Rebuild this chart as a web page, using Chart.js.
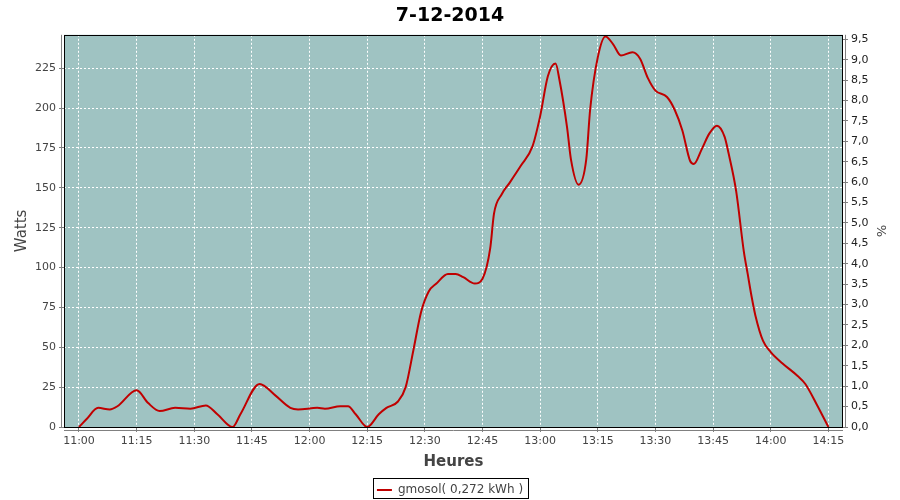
<!DOCTYPE html>
<html>
<head>
<meta charset="utf-8">
<script src="https://cdn.jsdelivr.net/npm/chart.js@4/dist/chart.umd.min.js"></script>
<style>
  html, body { margin: 0; padding: 0; background: #fff; }
  #wrap { width: 900px; height: 500px; }
</style>
</head>
<body>
<div id="wrap"><canvas id="grafico"></canvas></div>
<script>
// readings of the day (time, watts)
const heures = ['11:00','11:02','11:05','11:08','11:10','11:15','11:18','11:21','11:25','11:29',
  '11:33','11:36','11:40','11:42','11:47','11:51','11:55','11:57','12:02','12:04',
  '12:08','12:10','12:12','12:15','12:18','12:20','12:23','12:25','12:27','12:29',
  '12:31','12:33','12:36','12:38','12:40','12:43','12:45','12:47','12:48','12:50',
  '12:52','12:55','12:58','13:00','13:02','13:04','13:05','13:07','13:08','13:10',
  '13:12','13:13','13:15','13:17','13:19','13:21','13:24','13:26','13:28','13:30',
  '13:33','13:35','13:37','13:39','13:40','13:42','13:44','13:46','13:48','13:49',
  '13:51','13:53','13:54','13:55','13:56','13:58','14:00','14:03','14:07','14:09','14:12','14:15'];
const watts = [0, 5, 12, 11, 13, 23, 15, 10, 12, 11.5,
  13.5, 8, 0, 8, 27, 20, 12, 11, 12, 11.5,
  13, 13, 8, 0, 8, 12, 16, 25, 48, 72,
  85, 90, 96, 96, 94, 90, 93, 112, 134, 146,
  153, 164, 176, 195, 220, 228, 218, 188, 168, 152,
  168, 199, 232, 245, 240, 233, 235, 231, 219, 211,
  207, 199, 186, 167, 165, 174, 184, 189, 182, 172,
  148, 110, 96, 82, 70, 54, 47, 40, 32, 27, 14, 0];
const serie = 'gmosol( 0,272 kWh )';
const xTicksStep = 15;
const wattsTicksStep = 25;
const pctTicksStep = 0.5;

function toMin(h) {
  const p = h.split(':');
  return (parseInt(p[0], 10) - 11) * 60 + parseInt(p[1], 10);
}
function toHeure(m) {
  const t = 11 * 60 + Math.round(m);
  return Math.floor(t / 60) + ':' + String(t % 60).padStart(2, '0');
}

const points = heures.map((h, i) => ({x: toMin(h), y: watts[i]}));

const fondPlot = {
  id: 'fondPlot',
  beforeDraw(chart) {
    const {ctx, chartArea: a} = chart;
    ctx.save();
    ctx.fillStyle = '#9fc3c2';
    ctx.fillRect(a.left, a.top, a.right - a.left, a.bottom - a.top);
    ctx.restore();
  },
  afterDatasetsDraw(chart) {
    const {ctx, chartArea: a} = chart;
    ctx.save();
    ctx.strokeStyle = '#000';
    ctx.lineWidth = 1;
    ctx.strokeRect(Math.round(a.left) + 0.5, Math.round(a.top) + 0.5,
      Math.round(a.right - a.left) - 1, Math.round(a.bottom - a.top));
    // axis lines set apart from the plot
    ctx.strokeStyle = '#808080';
    ctx.beginPath();
    ctx.moveTo(Math.round(a.left) - 2.5, a.top);
    ctx.lineTo(Math.round(a.left) - 2.5, a.bottom + 1);
    ctx.moveTo(a.left, Math.round(a.bottom) + 3.5);
    ctx.lineTo(a.right, Math.round(a.bottom) + 3.5);
    ctx.moveTo(Math.round(a.right) + 2.5, a.top);
    ctx.lineTo(Math.round(a.right) + 2.5, a.bottom + 1);
    ctx.stroke();
    // legend frame
    const box = chart.legend.legendHitBoxes[0];
    if (box) {
      ctx.strokeStyle = '#000';
      ctx.strokeRect(Math.round(box.left) - 3.5, Math.round(box.top) - 5.5,
        Math.round(box.width) + 9, Math.round(box.height) + 8);
    }
    ctx.restore();
  }
};

const ctx = document.getElementById('grafico');
new Chart(ctx, {
  type: 'line',
  data: {
    datasets: [{
      label: serie,
      data: points,
      borderColor: '#c00000',
      backgroundColor: '#c00000',
      borderWidth: 2,
      pointRadius: 0,
      fill: false,
      cubicInterpolationMode: 'monotone',
      yAxisID: 'y'
    }]
  },
  options: {
    responsive: true,
    maintainAspectRatio: false,
    animation: false,
    layout: { padding: { top: 0, left: 0, right: 0, bottom: -6 } },
    plugins: {
      title: {
        display: true,
        text: '7-12-2014',
        color: '#000',
        font: { family: 'DejaVu Sans', size: 19, weight: 'bold' },
        padding: { top: 5, bottom: 7 }
      },
      legend: {
        position: 'bottom',
        labels: {
          usePointStyle: true,
          pointStyle: 'line',
          pointStyleWidth: 15,
          color: '#444',
          font: { family: 'DejaVu Sans', size: 12 },
          padding: 3
        }
      },
      tooltip: { enabled: false }
    },
    scales: {
      x: {
        type: 'linear',
        min: -3.9,
        max: 198.8,
        afterFit: s => { s.height = 54; },
        ticks: {
          stepSize: xTicksStep,
          includeBounds: false,
          maxTicksLimit: 20,
          maxRotation: 0,
          autoSkip: false,
          color: '#444',
          font: { family: 'DejaVu Sans', size: 11 },
          padding: 3,
          callback: v => toHeure(v)
        },
        grid: { color: '#fff', lineWidth: 1, tickColor: '#808080', tickLength: 5 },
        border: { display: false, dash: [2, 2] },
        title: {
          display: true, text: 'Heures', color: '#444',
          font: { family: 'DejaVu Sans', size: 15, weight: 'bold' },
          padding: { top: 2, bottom: 10 }
        }
      },
      y: {
        position: 'left',
        min: 0,
        max: 246,
        afterFit: s => { s.width = 64; },
        ticks: {
          stepSize: wattsTicksStep,
          includeBounds: false,
          color: '#444',
          font: { family: 'DejaVu Sans', size: 11 },
          padding: 3
        },
        grid: { color: '#fff', lineWidth: 1, tickColor: '#808080', tickLength: 5 },
        border: { display: false, dash: [2, 2] },
        title: {
          display: true, text: 'Watts', color: '#444',
          font: { family: 'DejaVu Sans', size: 15 },
          padding: { top: 13, bottom: 0 }
        }
      },
      y1: {
        position: 'right',
        min: 0,
        max: 9.61,
        afterFit: s => { s.width = 57; },
        ticks: {
          stepSize: pctTicksStep,
          includeBounds: false,
          maxTicksLimit: 25,
          color: '#222',
          font: { family: 'DejaVu Sans', size: 11 },
          padding: 3,
          callback: v => v.toFixed(1).replace('.', ',')
        },
        grid: { drawOnChartArea: false, tickColor: '#808080', tickLength: 5 },
        border: { display: false },
        title: {
          display: true, text: '%', color: '#444',
          font: { family: 'DejaVu Sans', size: 13 },
          padding: { top: 12, bottom: 0 }
        }
      }
    }
  },
  plugins: [fondPlot]
});
</script>
</body>
</html>
